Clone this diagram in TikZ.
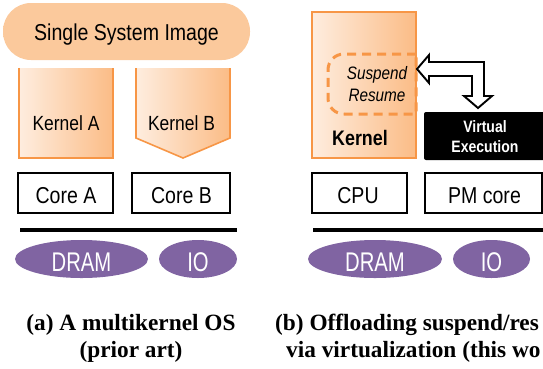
\documentclass[tikz,border=0pt]{standalone}
\usepackage{fontspec}
\setmainfont{Liberation Serif}
\newfontfamily\lsans[FakeStretch=0.85]{Liberation Sans}
\newfontfamily\lsanscond[FakeStretch=0.75]{Liberation Sans}
\usetikzlibrary{shapes.geometric}

\definecolor{kborder}{HTML}{F79646}
\definecolor{klight}{HTML}{FEEDDF}
\definecolor{kdark}{HTML}{FBBC86}
\definecolor{ssiedge}{HTML}{FBC99C}
\definecolor{ssimid}{HTML}{FDDDC2}
\definecolor{purp}{HTML}{8064A2}

\tikzset{
  sans/.style={font={\lsans\fontsize{#1}{#1}\selectfont}, inner sep=0pt},
  kgrad/.style={left color=klight, right color=kdark},
  kline/.style={draw=kborder, line width=1.6pt},
  hwbox/.style={draw=black, line width=2pt, inner sep=0pt, minimum height=40pt},
  bus/.style={line width=4pt},
  memnode/.style={ellipse, fill=purp, inner sep=0pt, minimum height=38pt},
  memtext/.style={font={\lsanscond\fontsize{27}{27}\selectfont}, text=white, inner sep=0pt},
  caption/.style={font={\bfseries\fontsize{23.3}{27}\selectfont}, inner sep=0pt, anchor=base},
}

\begin{document}
\begin{tikzpicture}[x=1pt, y=-1pt]
\useasboundingbox (0,0) rectangle (543,368);
\clip (0,0) rectangle (543,368);

% ---------- (a) multikernel OS ----------
\node[rectangle, rounded corners=28pt, minimum width=247pt, minimum height=57pt,
      top color=ssiedge, middle color=ssimid, bottom color=ssiedge] (ssi) at (126.5,31.5) {};
\node[sans=23, anchor=base] (ssit) at (126.5,40) {Single System Image};

% Kernel A: open at the top
\node[rectangle, kgrad, minimum width=94pt, minimum height=90pt, inner sep=0pt] (kA) at (66,113) {};
\draw[kline] (kA.north west) -- (kA.south west) -- (kA.south east) -- (kA.north east);
\node[sans=20.5, anchor=base] (kAt) at (66,130) {Kernel A};

% Kernel B: pentagon pointing down
\shade[kgrad] (136,68) -- (136,138) -- (183,158) -- (230,138) -- (230,68) -- cycle;
\draw[kline] (136,68) -- (136,138) -- (183,158) -- (230,138) -- (230,68);
\node[sans=20.5, anchor=base] (kBt) at (181.5,130) {Kernel B};

\node[hwbox, minimum width=95pt] (coreA) at (65.5,193) {};
\node[sans=23, anchor=base] (coreAt) at (66,203) {Core A};
\node[hwbox, minimum width=98pt] (coreB) at (181,193) {};
\node[sans=23, anchor=base] (coreBt) at (181.5,203) {Core B};

\coordinate (busAl) at (20,230);
\coordinate (busAr) at (237,230);
\draw[bus] (busAl) -- (busAr);

\node[memnode, minimum width=133pt] (dramA) at (81.5,259) {};
\node[memtext, anchor=base] (dramAt) at (81.5,271) {DRAM};
\node[memnode, minimum width=78pt] (ioA) at (198,259) {};
\node[memtext, anchor=base] (ioAt) at (198,271) {IO};

\node[caption] (capA1) at (131,330) {(a) A multikernel OS};
\node[caption] (capA2) at (131,357) {(prior art)};

% ---------- (b) offloading via virtualization ----------
\node[rectangle, kgrad, draw=kborder, line width=1.6pt, minimum width=104pt,
      minimum height=146pt, inner sep=0pt] (kR) at (364,85) {};
\draw[draw=kborder, line width=3pt, dash pattern=on 9pt off 6pt]
  (416,54) -- (344,54) .. controls (335,54) and (328,61) .. (328,70)
  -- (328,98) .. controls (328,107) and (335,114) .. (344,114) -- (416,114) -- cycle;
\node[font={\lsans\itshape\fontsize{18}{22}\selectfont}, align=center, inner sep=0pt]
  (susp) at (377,84) {Suspend\\Resume};
\node[font={\lsans\bfseries\fontsize{21}{21}\selectfont}, anchor=base, inner sep=0pt]
  (kRt) at (360,145) {Kernel};

% hollow block arrow between kernel and virtual execution
\draw[line width=1.9pt, fill=white, line join=miter]
  (417,69) -- (429,55) -- (429,62) -- (484,62) -- (484,96) -- (492,96) -- (478,108)
  -- (464,96) -- (472,96) -- (472,76) -- (429,76) -- (429,83) -- cycle;

\node[rectangle, fill=black, rounded corners=2pt, minimum width=140pt, minimum height=48pt,
      inner sep=0pt] (vexe) at (494,136) {};
\node[font={\lsans\bfseries\fontsize{16.5}{20}\selectfont}, text=white, align=center,
      inner sep=0pt] (vexet) at (485,137) {Virtual\\Execution};

\node[hwbox, minimum width=95pt] (cpu) at (359.5,193) {};
\node[sans=23, anchor=base] (cput) at (358,203) {CPU};
\node[hwbox, minimum width=117pt] (pmc) at (483.5,193) {};
\node[sans=23, anchor=base] (pmct) at (484.5,203) {PM core};

\coordinate (busBl) at (313,230);
\coordinate (busBr) at (560,230);
\draw[bus] (busBl) -- (busBr);

\node[memnode, minimum width=134pt] (dramB) at (375,259) {};
\node[memtext, anchor=base] (dramBt) at (375,271) {DRAM};
\node[memnode, minimum width=77pt] (ioB) at (491.5,259) {};
\node[memtext, anchor=base] (ioBt) at (491.5,271) {IO};

\node[caption, anchor=base west] (capB1) at (275,330) {(b) Offloading suspend/res};
\node[caption, anchor=base west] (capB2) at (286,357) {via virtualization (this wo};
\end{tikzpicture}
\end{document}
